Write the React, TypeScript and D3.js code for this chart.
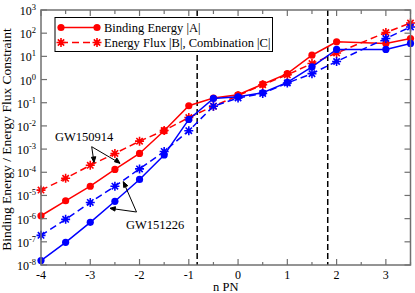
import React from "react";
import * as d3 from "d3";

// n PN orders
const nPN = [-4, -3.5, -3, -2.5, -2, -1.5, -1, -0.5, 0, 0.5, 1, 1.5, 2, 3, 3.5];

// GW150914 (red)
const bindingRed = [1.33e-6, 5.9e-6, 2.5e-5, 1.33e-4, 6.5e-4, 6.2e-3, 0.074, 0.16, 0.22, 0.63, 1.8, 11.2, 42.7, 36, 59];
const fluxRed = [1.7e-5, 5.5e-5, 2.0e-4, 6.5e-4, 2.2e-3, 6.3e-3, 0.023, 0.071, 0.2, 0.6, 1.6, 4.9, 14, 107, 275];
// GW151226 (blue)
const bindingBlue = [1.55e-8, 9.5e-8, 6.9e-7, 5.6e-6, 4.9e-5, 5.6e-4, 0.019, 0.153, 0.18, 0.27, 0.75, 3.5, 20, 20, 36];
const fluxBlue = [1.9e-7, 9.3e-7, 5.0e-6, 2.5e-5, 1.4e-4, 7.9e-4, 6.2e-3, 0.071, 0.16, 0.25, 0.71, 1.8, 6.0, 59, 186];

const xTicks = [-4, -3, -2, -1, 0, 1, 2, 3];
const xMinor = [-3.5, -2.5, -1.5, -0.5, 0.5, 1.5, 2.5, 3.5];
const yExps = [-8, -7, -6, -5, -4, -3, -2, -1, 0, 1, 2, 3];
const vLines = [-0.83, 1.82];

const W = 415;
const H = 293;
const L = 41, R = 410.5, T = 10, B = 265;
const TXT = { fontFamily: "Liberation Serif" };
const AXIS = "#707070";

function starPath(x: number, y: number, r: number) {
  let p = "";
  for (let i = 0; i < 4; i++) {
    const a = (i * Math.PI) / 4;
    const dx = Math.cos(a) * r, dy = Math.sin(a) * r;
    p += `M${x - dx},${y - dy}L${x + dx},${y + dy}`;
  }
  return p;
}

export default function App() {
  const x = d3.scaleLinear().domain([-4, 3.5]).range([L, R]);
  const y = d3.scaleLog().domain([1e-8, 1e3]).range([B, T]);
  const line = d3.line<[number, number]>().x(d => x(d[0])).y(d => y(d[1]));

  const series = [
    { vals: bindingRed, color: "#ff0000", star: false },
    { vals: fluxRed, color: "#ff0000", star: true },
    { vals: bindingBlue, color: "#0000ff", star: false },
    { vals: fluxBlue, color: "#0000ff", star: true },
  ];

  return (
    <svg width={W} height={H} style={{ position: "absolute", left: 0, top: 0, background: "#fff" }}>
      {/* vertical dashed markers */}
      {vLines.map((v, i) => (
        <line key={i} x1={x(v)} x2={x(v)} y1={T} y2={B} stroke="#000" strokeWidth={1.5} strokeDasharray="6,3" />
      ))}

      {/* series */}
      {series.map((s, i) => {
        const pts = nPN.map((n, j) => [n, s.vals[j]] as [number, number]);
        return (
          <g key={i}>
            <path d={line(pts) || ""} fill="none" stroke={s.color} strokeWidth={1.5}
              strokeDasharray={s.star ? "7,4" : undefined} />
            {pts.map((p, j) => s.star
              ? <path key={j} d={starPath(x(p[0]), y(p[1]), 4.5)} stroke={s.color} strokeWidth={1.6} />
              : <circle key={j} cx={x(p[0])} cy={y(p[1])} r={3.6} fill={s.color} />)}
          </g>
        );
      })}

      {/* frame */}
      <rect x={L} y={T} width={R - L} height={B - T} fill="none" stroke={AXIS} strokeWidth={1.5} />

      {/* x ticks */}
      {xTicks.map(t => (
        <g key={t}>
          <line x1={x(t)} x2={x(t)} y1={B} y2={B - 6} stroke={AXIS} strokeWidth={1.2} />
          <line x1={x(t)} x2={x(t)} y1={T} y2={T + 6} stroke={AXIS} strokeWidth={1.2} />
          <text x={x(t)} y={B + 14} fontSize={12} textAnchor="middle" style={TXT}>{t}</text>
        </g>
      ))}
      {xMinor.map(t => (
        <g key={t}>
          <line x1={x(t)} x2={x(t)} y1={B} y2={B - 3} stroke={AXIS} strokeWidth={1.2} />
          <line x1={x(t)} x2={x(t)} y1={T} y2={T + 4} stroke={AXIS} strokeWidth={1.2} />
        </g>
      ))}
      <text x={(L + R) / 2} y={B + 26} fontSize={12.5} textAnchor="middle" style={TXT}>n PN</text>

      {/* y ticks */}
      {yExps.map(e => (
        <g key={e}>
          <line x1={L} x2={L + 6} y1={y(10 ** e)} y2={y(10 ** e)} stroke={AXIS} strokeWidth={1.2} />
          <line x1={R} x2={R - 6} y1={y(10 ** e)} y2={y(10 ** e)} stroke={AXIS} strokeWidth={1.2} />
          <text x={36} y={y(10 ** e) + 5} fontSize={12} textAnchor="end" style={TXT}>
            <tspan>10</tspan>
            <tspan dy={-5} fontSize={8.5}>{e}</tspan>
          </text>
        </g>
      ))}
      <text transform={`translate(11,${(T + B) / 2 + 2}) rotate(-90)`} fontSize={13.5} textAnchor="middle" style={TXT}>
        Binding Energy / Energy Flux Constraint
      </text>

      {/* legend */}
      <rect x={55} y={17.5} width={217.5} height={34} fill="#fff" stroke="#000" strokeWidth={1} />
      <line x1={61} x2={97} y1={27.5} y2={27.5} stroke="#ff0000" strokeWidth={1.5} />
      <circle cx={61} cy={27.5} r={3.6} fill="#ff0000" />
      <circle cx={97} cy={27.5} r={3.6} fill="#ff0000" />
      <text x={104} y={31.5} fontSize={12.5} style={TXT}>Binding Energy |A|</text>
      <line x1={61} x2={97} y1={42.5} y2={42.5} stroke="#ff0000" strokeWidth={1.5} strokeDasharray="7,4" />
      <path d={starPath(61, 42.5, 4.5) + starPath(97, 42.5, 4.5)} stroke="#ff0000" strokeWidth={1.6} />
      <text x={104} y={46.5} fontSize={12.5} style={TXT}>Energy Flux |B|, Combination |C|</text>

      {/* annotations */}
      <text x={55} y={141} fontSize={12.5} style={TXT}>GW150914</text>
      <g stroke="#000" strokeWidth={1} fill="#000">
        <line x1={91.7} y1={146.7} x2={94} y2={162.5} />
        <line x1={91.7} y1={146.7} x2={120} y2={163.3} />
        <path d="M94,162.5l-2.6,-5.2l4.4,-0.6z" />
        <path d="M120,163.3l-5.5,-1.5l2.3,-3.9z" />
      </g>
      <text x={126} y={229} fontSize={12.5} style={TXT}>GW151226</text>
      <g stroke="#000" strokeWidth={1} fill="#000">
        <line x1={136.5} y1={212} x2={123.3} y2={181.7} />
        <line x1={136.5} y1={212} x2={110} y2={208.3} />
        <path d="M123.3,181.7l4.5,4l-4.1,1.8z" />
        <path d="M110,208.3l5.5,-1.6l-0.6,4.4z" />
      </g>
    </svg>
  );
}
